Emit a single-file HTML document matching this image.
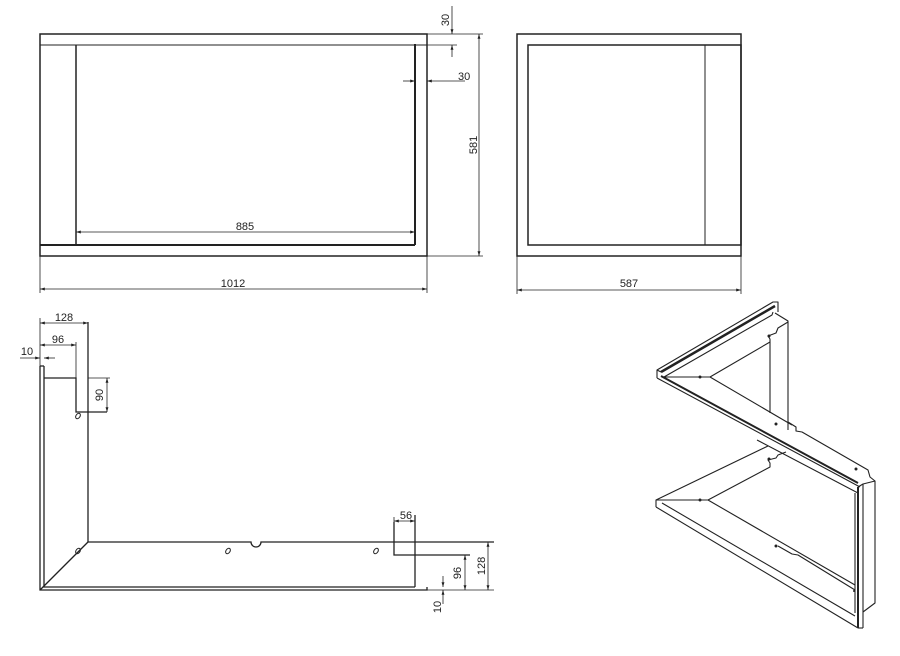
<!DOCTYPE html>
<html><head><style>
html,body{margin:0;padding:0;background:#fff;}
svg{display:block;}
text{font-family:"Liberation Sans",sans-serif;font-size:11px;fill:#222;}
</style></head><body>
<svg width="900" height="656" viewBox="0 0 900 656" xmlns="http://www.w3.org/2000/svg">
<defs>
<marker id="a" viewBox="0 0 10 10" refX="10" refY="5" markerWidth="6" markerHeight="6" orient="auto-start-reverse"><path d="M0,2 L10,5 L0,8 z" fill="#222"/></marker>
</defs>
<g stroke="#222" fill="none" stroke-width="1.5">
<rect x="40" y="34" width="387" height="222"/>
<line x1="40" y1="45" x2="427" y2="45" stroke-width="1"/>
<line x1="76" y1="45" x2="76" y2="245"/>
<line x1="415" y1="44" x2="415" y2="245" stroke-width="2"/>
<line x1="40" y1="245" x2="415" y2="245" stroke-width="2"/>
<rect x="517" y="34" width="224" height="222"/>
<rect x="528" y="45" width="213" height="200"/>
<line x1="705" y1="45" x2="705" y2="245" stroke-width="1"/>
</g>
<g stroke="#222" fill="none" stroke-width="0.8">
<line x1="76" y1="232" x2="415" y2="232" marker-start="url(#a)" marker-end="url(#a)"/>
<line x1="40" y1="256" x2="40" y2="293"/><line x1="427" y1="256" x2="427" y2="293"/>
<line x1="40" y1="289" x2="427" y2="289" marker-start="url(#a)" marker-end="url(#a)"/>
<line x1="427" y1="34" x2="483" y2="34"/><line x1="427" y1="256" x2="483" y2="256"/>
<line x1="479" y1="34" x2="479" y2="256" marker-start="url(#a)" marker-end="url(#a)"/>
<line x1="415" y1="45" x2="457" y2="45"/>
<line x1="452" y1="6" x2="452" y2="34" marker-end="url(#a)"/>
<line x1="452" y1="57" x2="452" y2="45" marker-end="url(#a)"/>
<line x1="403" y1="81" x2="415" y2="81" marker-end="url(#a)"/>
<line x1="465" y1="81" x2="427" y2="81" marker-end="url(#a)"/>
<line x1="517" y1="256" x2="517" y2="294"/><line x1="741" y1="256" x2="741" y2="294"/>
<line x1="517" y1="290" x2="741" y2="290" marker-start="url(#a)" marker-end="url(#a)"/>
</g>
<text x="245" y="230" text-anchor="middle">885</text>
<text x="233" y="287" text-anchor="middle">1012</text>
<text x="458" y="80">30</text>
<text transform="translate(449,20) rotate(-90)" text-anchor="middle">30</text>
<text transform="translate(477,145) rotate(-90)" text-anchor="middle">581</text>
<text x="629" y="287" text-anchor="middle">587</text>

<g stroke="#222" fill="none" stroke-width="1.3">
<polyline points="40,366 40,590 427,590 427,587"/>
<polyline points="44,366 44,587 415,587"/>
<line x1="40" y1="366" x2="44" y2="366"/>
<polyline points="44,378 76,378 76,412 107,412"/>
<line x1="88" y1="322" x2="88" y2="542"/>
<line x1="40" y1="590" x2="88" y2="542"/>
<path d="M88,542 L251,542 A5,5 0 0 0 261,542 L494,542"/>
<polyline points="394,522 394,555 470,555"/>
<line x1="415" y1="515" x2="415" y2="587"/>
<ellipse cx="78" cy="416" rx="2" ry="3" transform="rotate(35 78 416)" stroke-width="1"/>
<ellipse cx="78" cy="551" rx="2" ry="3" transform="rotate(35 78 551)" stroke-width="1"/>
<ellipse cx="228" cy="551" rx="2" ry="3" transform="rotate(35 228 551)" stroke-width="1"/>
<ellipse cx="376" cy="551" rx="2" ry="3" transform="rotate(35 376 551)" stroke-width="1"/>
</g>
<g stroke="#222" fill="none" stroke-width="0.8">
<line x1="40" y1="318" x2="40" y2="366"/>
<line x1="40" y1="323" x2="88" y2="323" marker-start="url(#a)" marker-end="url(#a)"/>
<line x1="76" y1="342" x2="76" y2="378"/>
<line x1="40" y1="345" x2="76" y2="345" marker-start="url(#a)" marker-end="url(#a)"/>
<line x1="20" y1="358" x2="40" y2="358" marker-end="url(#a)"/>
<line x1="55" y1="358" x2="44" y2="358" marker-end="url(#a)"/>
<line x1="88" y1="378" x2="110" y2="378"/>
<line x1="107" y1="378" x2="107" y2="412" marker-start="url(#a)" marker-end="url(#a)"/>
<line x1="394" y1="517" x2="394" y2="522"/>
<line x1="394" y1="521" x2="415" y2="521" marker-start="url(#a)" marker-end="url(#a)"/>
<line x1="427" y1="590" x2="494" y2="590"/>
<line x1="488" y1="542" x2="488" y2="590" marker-start="url(#a)" marker-end="url(#a)"/>
<line x1="465" y1="555" x2="465" y2="590" marker-start="url(#a)" marker-end="url(#a)"/>
<line x1="443" y1="576" x2="443" y2="587" marker-end="url(#a)"/>
<line x1="443" y1="604" x2="443" y2="590" marker-end="url(#a)"/>
</g>
<text x="64" y="321" text-anchor="middle">128</text>
<text x="58" y="343" text-anchor="middle">96</text>
<text x="27" y="355" text-anchor="middle">10</text>
<text transform="translate(103,395) rotate(-90)" text-anchor="middle">90</text>
<text x="406" y="519" text-anchor="middle">56</text>
<text transform="translate(461,573) rotate(-90)" text-anchor="middle">96</text>
<text transform="translate(485,566) rotate(-90)" text-anchor="middle">128</text>
<text transform="translate(441,607) rotate(-90)" text-anchor="middle">10</text>

<!-- Isometric -->
<g stroke="#222" fill="none" stroke-width="1.1" stroke-linejoin="round">
<!-- upper frame outer -->
<polyline points="657,378 657,370 773,302 778,302 778,312"/>
<line x1="657" y1="370" x2="661" y2="372"/>
<line x1="661" y1="372" x2="775" y2="306" stroke-width="2.5"/>
<polyline points="664,377 772,315 773,312"/>
<!-- right panel of upper -->
<polyline points="775,313 788,321 788,430"/>
<line x1="770" y1="342" x2="770" y2="413"/>
<polyline points="664,377 710,377 770,342 770,339 768,336 776,333 778,328 788,322"/>
<!-- long bar -->
<polyline points="657,378 860,487"/>
<polyline points="661,376 858,483" stroke-width="2"/>
<line x1="710" y1="377" x2="792" y2="425"/>
<polyline points="788,422 796,427 796,431 802,432 868,470 870,477 875,481"/>
<polyline points="757,440 858,493"/>
<!-- right frame -->
<polyline points="858,487 863,484 875,481 875,603 863,612"/>
<line x1="858" y1="487" x2="858" y2="628" stroke-width="2"/>
<line x1="863" y1="484" x2="863" y2="628"/>
<line x1="858" y1="628" x2="863" y2="628"/>
<line x1="855" y1="493" x2="855" y2="613"/>
<!-- lower frame -->
<polyline points="656,507 656,500 768,446"/>
<line x1="656" y1="507" x2="858" y2="628"/>
<line x1="662" y1="503" x2="855" y2="616"/>
<polyline points="656,500 708,500 770,467 770,463 768,460 776,458 778,455 786,452"/>
<line x1="708" y1="500" x2="855" y2="585"/>
<polyline points="778,546 792,554 798,555 855,590"/>
</g>
<g fill="#222">
<circle cx="769" cy="336" r="1.5"/><circle cx="700" cy="377" r="1.5"/>
<circle cx="776" cy="424" r="1.5"/><circle cx="856" cy="469" r="1.5"/>
<circle cx="769" cy="459" r="1.5"/><circle cx="700" cy="500" r="1.5"/>
<circle cx="776" cy="546" r="1.5"/><circle cx="854" cy="591" r="1"/>
</g>
</svg>
</body></html>
